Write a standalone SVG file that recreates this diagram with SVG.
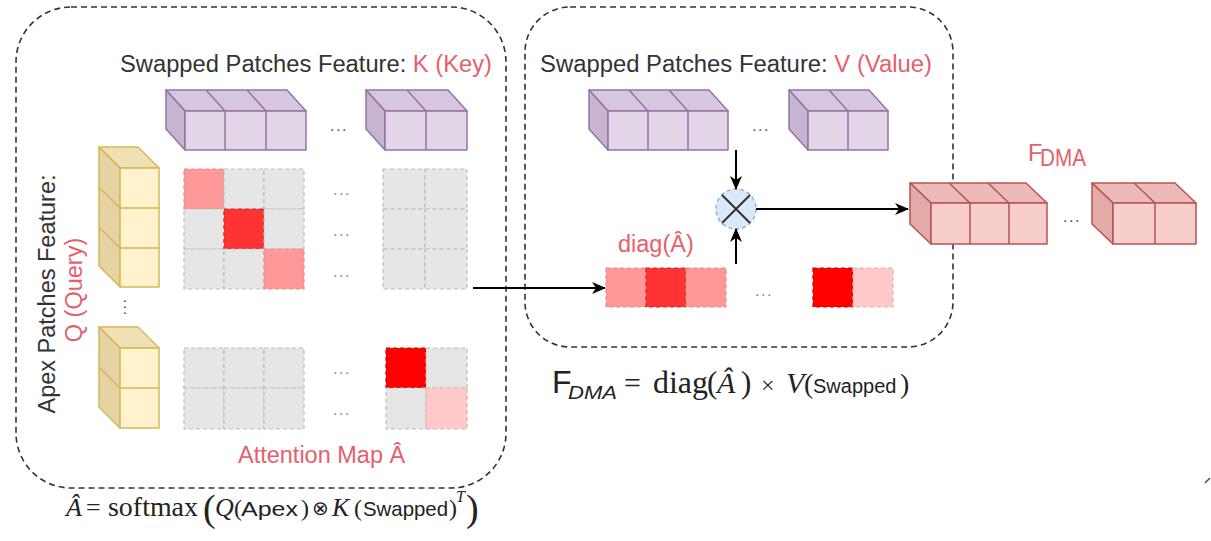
<svg xmlns="http://www.w3.org/2000/svg" width="1211" height="541" viewBox="0 0 1211 541">
  <style>
    .lbl { font-family: "Liberation Sans", Arial, sans-serif; font-size: 23.5px; fill: #333333; }
    .red { fill: #e5606c; }
    .math { font-family: "Liberation Serif", "Times New Roman", serif; fill: #222222; }
    .msans { font-family: "Liberation Sans", Arial, sans-serif; fill: #222222; }
    .it { font-style: italic; }
    .frame { fill: none; stroke: #333333; stroke-width: 1.6; stroke-dasharray: 6 4; }
    .pf { fill: #e1d5e7; stroke: #9673a6; stroke-width: 1.5; stroke-linejoin: round; }
    .pt { fill: #d6c6df; stroke: #9673a6; stroke-width: 1.5; stroke-linejoin: round; }
    .ps { fill: #c6b4d1; stroke: #9673a6; stroke-width: 1.5; stroke-linejoin: round; }
    .yf { fill: #fff2cc; stroke: #d6b656; stroke-width: 1.5; stroke-linejoin: round; }
    .yt { fill: #f0e1b5; stroke: #d6b656; stroke-width: 1.5; stroke-linejoin: round; }
    .ys { fill: #e6d3a3; stroke: #d6b656; stroke-width: 1.5; stroke-linejoin: round; }
    .rf { fill: #f8cecc; stroke: #b85450; stroke-width: 1.5; stroke-linejoin: round; }
    .rt { fill: #ecbab8; stroke: #b85450; stroke-width: 1.5; stroke-linejoin: round; }
    .rs { fill: #e2aaa8; stroke: #b85450; stroke-width: 1.5; stroke-linejoin: round; }
    .cell { fill: #e6e6e6; stroke: #bdbdbd; stroke-width: 1.2; stroke-dasharray: 4 3; }
    .c1 { fill: #ff9999; stroke: #e88a8a; }
    .c2 { fill: #ff3333; stroke: #c62828; }
    .c3 { fill: #ff0000; stroke: #cc0000; }
    .c4 { fill: #ffc9c9; stroke: #e0b0b0; }
    .dots { font-family: "Liberation Sans", Arial, sans-serif; font-size: 16px; fill: #888888; letter-spacing: 1.5px; }
    .dotsd { font-family: "Liberation Sans", Arial, sans-serif; font-size: 16px; fill: #555555; letter-spacing: 1.5px; }
    .conn { fill: none; stroke: #000000; stroke-width: 2; }
  </style>
  <defs>
    <marker id="arrow" markerUnits="userSpaceOnUse" markerWidth="14" markerHeight="12" refX="13" refY="6" orient="auto">
      <path d="M0,0 L14,6 L0,12 L4,6 Z" fill="#000000"/>
    </marker>
  </defs>

  <!-- dashed frames -->
  <g id="frame-attention">
    <rect class="frame" x="16" y="7" width="490" height="481" rx="55" ry="55"/>
  </g>
  <g id="frame-dma">
    <rect class="frame" x="525" y="7" width="428" height="340" rx="45" ry="45"/>
  </g>

  <!-- titles -->
  <g id="title-key">
    <text class="lbl" x="120" y="72" textLength="372" lengthAdjust="spacingAndGlyphs">Swapped Patches Feature: <tspan class="red">K (Key)</tspan></text>
  </g>
  <g id="title-value">
    <text class="lbl" x="540" y="72" textLength="392" lengthAdjust="spacingAndGlyphs">Swapped Patches Feature: <tspan class="red">V (Value)</tspan></text>
  </g>
  <g id="title-query">
    <text class="lbl" transform="translate(55,294) rotate(-90)" text-anchor="middle">Apex Patches Feature:</text>
    <text class="lbl red" transform="translate(82,290) rotate(-90)" text-anchor="middle">Q (Query)</text>
  </g>

  <!-- key blocks -->
  <g id="key-block-1">
    <polygon class="pt" points="185,111 306,111 287,90 166,90"/>
    <polygon class="ps" points="166,90 185,111 185,150 166,129"/>
    <rect class="pf" x="185" y="111" width="121" height="39"/>
    <path class="pf" d="M225,111 V150 M266,111 V150 M225,111 L206,90 M266,111 L247,90" fill="none"/>
  </g>
  <text class="dotsd" x="330" y="131">...</text>
  <g id="key-block-2">
    <polygon class="pt" points="385,111 467,111 448,90 366,90"/>
    <polygon class="ps" points="366,90 385,111 385,150 366,129"/>
    <rect class="pf" x="385" y="111" width="82" height="39"/>
    <path class="pf" d="M426,111 V150 M426,111 L407,90" fill="none"/>
  </g>

  <!-- value blocks -->
  <g id="value-block-1">
    <polygon class="pt" points="608,111 728,111 709,90 589,90"/>
    <polygon class="ps" points="589,90 608,111 608,150 589,129"/>
    <rect class="pf" x="608" y="111" width="120" height="39"/>
    <path class="pf" d="M648,111 V150 M688,111 V150 M648,111 L629,90 M688,111 L669,90" fill="none"/>
  </g>
  <text class="dotsd" x="752" y="131">...</text>
  <g id="value-block-2">
    <polygon class="pt" points="808,111 888,111 869,90 789,90"/>
    <polygon class="ps" points="789,90 808,111 808,150 789,129"/>
    <rect class="pf" x="808" y="111" width="80" height="39"/>
    <path class="pf" d="M848,111 V150 M848,111 L829,90" fill="none"/>
  </g>

  <!-- query blocks -->
  <g id="query-block-1">
    <polygon class="yt" points="120,168 159,168 138,147 99,147"/>
    <polygon class="ys" points="99,147 120,168 120,287 99,266"/>
    <rect class="yf" x="120" y="168" width="39" height="119"/>
    <path class="yf" d="M120,208 H159 M120,248 H159 M120,208 L99,187 M120,248 L99,227" fill="none"/>
  </g>
  <text class="dotsd" transform="translate(124,299) rotate(90)">...</text>
  <g id="query-block-2">
    <polygon class="yt" points="120,348 159,348 138,327 99,327"/>
    <polygon class="ys" points="99,327 120,348 120,428 99,407"/>
    <rect class="yf" x="120" y="348" width="39" height="80"/>
    <path class="yf" d="M120,388 H159 M120,388 L99,367" fill="none"/>
  </g>

  <!-- attention map -->
  <g id="attention-map">
    <rect class="cell c1" x="184" y="169" width="40" height="40"/>
    <rect class="cell" x="224" y="169" width="40" height="40"/>
    <rect class="cell" x="264" y="169" width="40" height="40"/>
    <rect class="cell" x="184" y="209" width="40" height="40"/>
    <rect class="cell c2" x="224" y="209" width="40" height="40"/>
    <rect class="cell" x="264" y="209" width="40" height="40"/>
    <rect class="cell" x="184" y="249" width="40" height="40"/>
    <rect class="cell" x="224" y="249" width="40" height="40"/>
    <rect class="cell c1" x="264" y="249" width="40" height="40"/>

    <rect class="cell" x="383" y="169" width="42" height="40"/>
    <rect class="cell" x="425" y="169" width="42" height="40"/>
    <rect class="cell" x="383" y="209" width="42" height="40"/>
    <rect class="cell" x="425" y="209" width="42" height="40"/>
    <rect class="cell" x="383" y="249" width="42" height="40"/>
    <rect class="cell" x="425" y="249" width="42" height="40"/>

    <rect class="cell" x="184" y="348" width="40" height="40"/>
    <rect class="cell" x="224" y="348" width="40" height="40"/>
    <rect class="cell" x="264" y="348" width="40" height="40"/>
    <rect class="cell" x="184" y="388" width="40" height="41"/>
    <rect class="cell" x="224" y="388" width="40" height="41"/>
    <rect class="cell" x="264" y="388" width="40" height="41"/>

    <rect class="cell c3" x="386" y="348" width="40" height="40"/>
    <rect class="cell" x="426" y="348" width="41" height="40"/>
    <rect class="cell" x="386" y="388" width="40" height="41"/>
    <rect class="cell c4" x="426" y="388" width="41" height="41"/>

    <text class="dots" x="333" y="195">...</text>
    <text class="dots" x="333" y="236">...</text>
    <text class="dots" x="333" y="277">...</text>
    <text class="dots" x="333" y="374">...</text>
    <text class="dots" x="333" y="415">...</text>
    <text class="lbl red" x="238" y="463">Attention Map Â</text>
  </g>

  <!-- diagonal of the attention map -->
  <g id="diag-row">
    <text class="lbl red" x="618" y="252">diag(Â)</text>
    <rect class="cell c1" x="606" y="268" width="40" height="39" stroke-dasharray="none"/>
    <rect class="cell c2" x="646" y="268" width="40" height="39" stroke-dasharray="none"/>
    <rect class="cell c1" x="686" y="268" width="40" height="39" stroke-dasharray="none"/>
    <text class="dots" x="755" y="296">...</text>
    <rect class="cell c3" x="813" y="268" width="40" height="39" stroke-dasharray="none"/>
    <rect class="cell c4" x="853" y="268" width="40" height="39"/>
  </g>

  <!-- multiplication node -->
  <g id="multiply">
    <circle cx="736" cy="209" r="20" fill="#dae8fc" stroke="#8fa8c8" stroke-width="1.3" stroke-dasharray="4 3"/>
    <path d="M722,195 L750,223 M750,195 L722,223" stroke="#333333" stroke-width="2" fill="none"/>
  </g>

  <!-- output blocks -->
  <g id="output-block-1">
    <polygon class="rt" points="931,203 1047,203 1026,183 910,183"/>
    <polygon class="rs" points="910,183 931,203 931,244 910,224"/>
    <rect class="rf" x="931" y="203" width="116" height="41"/>
    <path class="rf" d="M970,203 V244 M1009,203 V244 M970,203 L949,183 M1009,203 L988,183" fill="none"/>
  </g>
  <text class="dotsd" x="1063" y="222">...</text>
  <g id="output-block-2">
    <polygon class="rt" points="1113,203 1196,203 1175,183 1092,183"/>
    <polygon class="rs" points="1092,183 1113,203 1113,244 1092,224"/>
    <rect class="rf" x="1113" y="203" width="83" height="41"/>
    <path class="rf" d="M1155,203 V244 M1155,203 L1134,183" fill="none"/>
  </g>
  <g id="output-label">
    <text class="lbl red" x="1028" y="161" font-size="21">F</text>
    <text class="lbl red" x="1040" y="166" font-size="15" textLength="46" lengthAdjust="spacingAndGlyphs">DMA</text>
  </g>

  <!-- connectors -->
  <g id="connectors">
    <path class="conn" d="M473,288 H605" marker-end="url(#arrow)"/>
    <path class="conn" d="M736,150 V189" marker-end="url(#arrow)"/>
    <path class="conn" d="M736,264 V229" marker-end="url(#arrow)"/>
    <path class="conn" d="M756,209 H908" marker-end="url(#arrow)"/>
  </g>

  <!-- F_DMA formula -->
  <g id="formula-dma">
    <text class="msans" x="552" y="393" font-size="32">F</text>
    <text class="msans it" x="568" y="399" font-size="19" textLength="49" lengthAdjust="spacingAndGlyphs">DMA</text>
    <text class="math" x="624" y="393" font-size="30">=</text>
    <text class="math" x="653" y="393" font-size="31" textLength="55" lengthAdjust="spacingAndGlyphs">diag</text>
    <text class="math" x="707" y="393" font-size="31">(</text>
    <text class="math it" x="717" y="393" font-size="30">Â</text>
    <text class="math" x="741" y="393" font-size="31">)</text>
    <text class="math" x="761" y="393" font-size="24">×</text>
    <text class="math it" x="786" y="393" font-size="30">V</text>
    <text class="math" x="804" y="393" font-size="28">(</text>
    <text class="msans" x="813" y="393" font-size="20">Swapped</text>
    <text class="math" x="900" y="393" font-size="28">)</text>
  </g>

  <!-- attention formula -->
  <g id="formula-attention">
    <text class="math it" x="66" y="516" font-size="26">Â</text>
    <text class="math" x="86" y="516" font-size="26">=</text>
    <text class="math" x="108" y="516" font-size="27" textLength="90" lengthAdjust="spacingAndGlyphs">softmax</text>
    <text class="math" x="203" y="521" font-size="38">(</text>
    <text class="math it" x="215" y="516" font-size="26">Q</text>
    <text class="math" x="234" y="516" font-size="24">(</text>
    <text class="msans" x="241" y="516" font-size="21" textLength="57" lengthAdjust="spacingAndGlyphs">Apex</text>
    <text class="math" x="301" y="516" font-size="24">)</text>
    <text class="math" x="312" y="515" font-size="20">⊗</text>
    <text class="math it" x="332" y="516" font-size="26">K</text>
    <text class="math" x="354" y="516" font-size="24">(</text>
    <text class="msans" x="363" y="516" font-size="20.4">Swapped</text>
    <text class="math" x="449" y="516" font-size="24">)</text>
    <text class="math it" x="456" y="502" font-size="16">T</text>
    <text class="math" x="466" y="521" font-size="38">)</text>
  </g>

  <!-- small stroke at the right edge -->
  <path d="M1205,483 L1210,478" stroke="#444444" stroke-width="1.5"/>
</svg>
